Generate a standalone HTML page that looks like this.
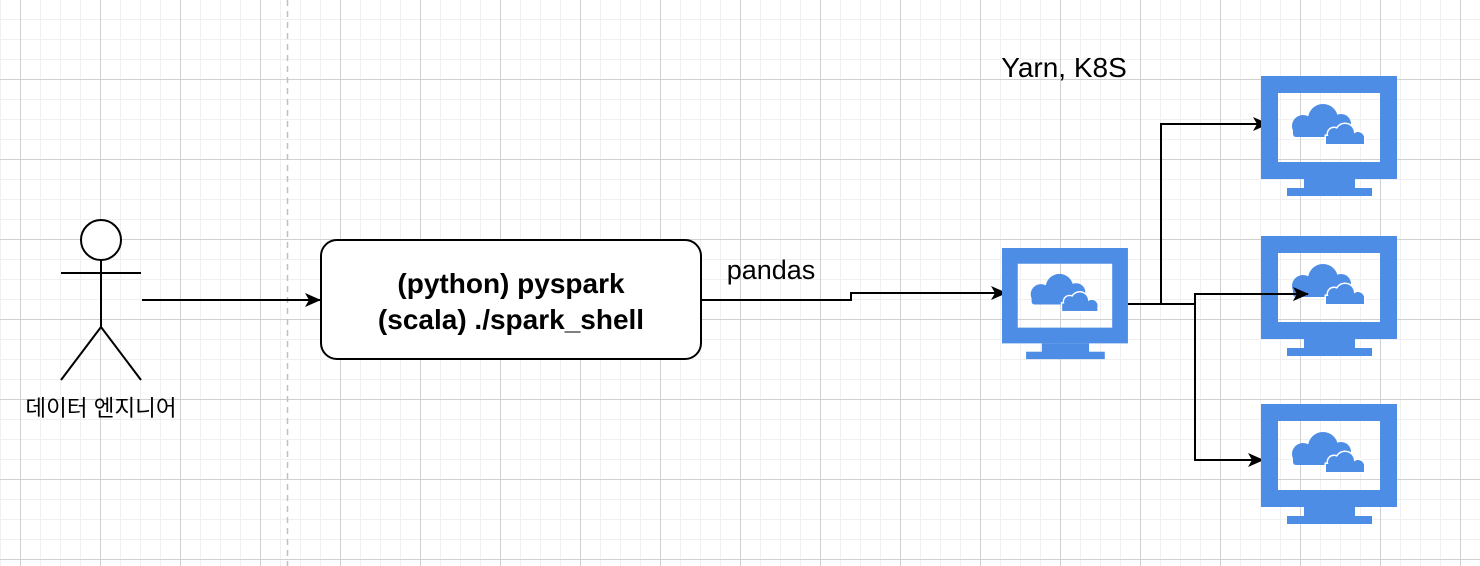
<!DOCTYPE html>
<html><head><meta charset="utf-8"><style>
html,body{margin:0;padding:0;background:#fff}
svg{display:block}
</style></head><body>
<svg width="1480" height="566" viewBox="0 0 1480 566" xmlns="http://www.w3.org/2000/svg" font-family="Liberation Sans, Helvetica, Arial, sans-serif">
<defs>
<pattern id="minor" width="20" height="20" patternUnits="userSpaceOnUse" x="0" y="19">
<path d="M0.5 0V20M0 0.5H20" stroke="#f0f0f0" stroke-width="1" fill="none"/>
</pattern>
<pattern id="major" width="80" height="80" patternUnits="userSpaceOnUse" x="20" y="79">
<path d="M0.5 0V80M0 0.5H80" stroke="#d0d0d0" stroke-width="1" fill="none"/>
</pattern>
<g id="mon">
<path fill="#4e8de6" fill-rule="evenodd" d="M0 0H136V103H0Z M17 17V86H119V17Z"/>
<rect x="43" y="103" width="51" height="10" fill="#4e8de6"/>
<rect x="26" y="112" width="85" height="8" fill="#4e8de6"/>
<g fill="#4e8de6">
<circle cx="42" cy="50" r="11"/><circle cx="62" cy="43" r="15"/><circle cx="80" cy="48" r="10"/>
<rect x="32" y="48" width="57" height="13" rx="3"/>
</g>
<g fill="#4e8de6" stroke="#fff" stroke-width="3">
<circle cx="73" cy="58" r="6"/><circle cx="84" cy="57" r="9"/><circle cx="97" cy="62" r="6"/>
<rect x="65" y="60" width="38" height="8"/>
</g>
<g fill="#4e8de6">
<circle cx="73" cy="58" r="6"/><circle cx="84" cy="57" r="9"/><circle cx="97" cy="62" r="6"/>
<rect x="65" y="60" width="38" height="8"/>
</g>
</g>
<marker id="ar" viewBox="0 0 16 14" refX="15" refY="7" markerWidth="16" markerHeight="14" markerUnits="userSpaceOnUse" orient="auto">
<path d="M0 0L16 7L0 14L4 7Z" fill="#000"/>
</marker>
</defs>
<rect width="1480" height="566" fill="url(#minor)"/>
<rect width="1480" height="566" fill="url(#major)"/>
<line x1="287.5" y1="0" x2="287.5" y2="566" stroke="#c0c0c0" stroke-width="1.5" stroke-dasharray="6,5"/>

<!-- person -->
<g stroke="#000" stroke-width="2" fill="none">
<circle cx="101" cy="240" r="20" fill="#fff"/>
<line x1="101" y1="260" x2="101" y2="327"/>
<line x1="61" y1="273" x2="141" y2="273"/>
<line x1="101" y1="327" x2="61" y2="380"/>
<line x1="101" y1="327" x2="141" y2="380"/>
</g>
<text x="101" y="416" font-size="22.5" text-anchor="middle" font-family="Liberation Sans, Noto Sans CJK KR, sans-serif">데이터 엔지니어</text>

<!-- box -->
<rect x="321" y="240" width="380" height="119" rx="16" fill="#fff" stroke="#000" stroke-width="2"/>
<text x="511" y="293" font-size="28" font-weight="bold" text-anchor="middle">(python) pyspark</text>
<text x="511" y="329" font-size="28" font-weight="bold" text-anchor="middle">(scala) ./spark_shell</text>
<text x="771" y="279" font-size="27" text-anchor="middle">pandas</text>
<text x="1064" y="77" font-size="28" text-anchor="middle">Yarn, K8S</text>

<!-- connectors -->
<g stroke="#000" stroke-width="2" fill="none">
<line x1="142" y1="300" x2="320" y2="300" marker-end="url(#ar)"/>
<polyline points="701,300 851,300 851,293 1006,293" marker-end="url(#ar)"/>
<polyline points="1128,304 1161,304 1161,124 1268,124" marker-end="url(#ar)"/>
<polyline points="1128,304 1195,304 1195,294 1308,294" marker-end="url(#ar)"/>
<polyline points="1195,304 1195,460 1263,460" marker-end="url(#ar)"/>
</g>

<!-- monitors -->
<use href="#mon" transform="translate(1002,248) scale(0.926)"/>
<use href="#mon" transform="translate(1261,76)"/>
<use href="#mon" transform="translate(1261,236)"/>
<use href="#mon" transform="translate(1261,404)"/>
<line x1="1261" y1="294" x2="1308" y2="294" stroke="#000" stroke-width="2" marker-end="url(#ar)"/>
</svg>
</body></html>
